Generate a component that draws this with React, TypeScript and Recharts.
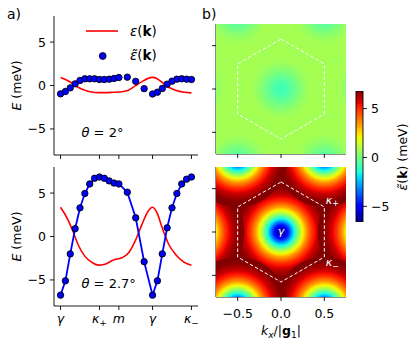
import React from 'react';
import { ComposedChart, Line, XAxis, YAxis, Scatter, BarChart, Bar, ReferenceArea } from 'recharts';
import * as RCNS from 'recharts';

const W = 415;
const H = 346;
const FONT = "'DejaVu Sans', 'Liberation Sans', sans-serif";

// ---------------- data: panel a (band along gamma-kappa+-m-gamma-kappa-) ----------------
const pathTickK = [0, 0.5774, 0.866, 1.366, 1.9434];
const pathTickLabels = ['γ', 'κ+', 'm', 'γ', 'κ−'];
const pathDomain = [-0.0972, 2.0406];
const energyDomain = [-8, 8];
const energyTicks = [-5, 0, 5];

const dotK = [0, 0.0722, 0.1443, 0.2165, 0.2887, 0.3608, 0.433, 0.5052, 0.5774, 0.6495, 0.7217, 0.7939, 0.866,
  0.991, 1.116, 1.241, 1.366, 1.4382, 1.5104, 1.5825, 1.6547, 1.7269, 1.799, 1.8712, 1.9434];
const epsTildeTheta2 = [-0.96, -0.69, -0.27, 0.19, 0.58, 0.77, 0.77, 0.77, 0.69, 0.69, 0.73, 0.81, 0.92,
  0.96, 0.48, -0.36, -0.98, -0.77, -0.35, 0.15, 0.5, 0.73, 0.77, 0.73, 0.69];
const epsTildeTheta27 = [-6.75, -5.1, -2.0, 0.9, 3.3, 4.95, 6.05, 6.7, 6.85, 6.7, 6.4, 6.15, 6.05,
  5.1, 2.15, -2.9, -6.75, -5.1, -2.0, 1.0, 3.3, 4.95, 6.05, 6.6, 6.85];

const curveK = [0, 0.109, 0.184, 0.259, 0.36, 0.46, 0.559, 0.659, 0.784, 0.909, 1.008, 1.109, 1.209, 1.299,
  1.366, 1.434, 1.509, 1.607, 1.708, 1.832, 1.9434];
const epsTheta2 = [0.93, 0.55, 0.2, -0.2, -0.55, -0.75, -0.82, -0.82, -0.78, -0.72, -0.55, -0.05, 0.45, 0.82,
  0.93, 0.78, 0.35, -0.2, -0.55, -0.78, -0.85];
const epsTheta27 = [3.37, 1.95, 0.6, -0.92, -2.26, -2.95, -3.3, -3.2, -2.7, -2.45, -1.9, -0.5, 1.4, 2.9,
  3.37, 2.7, 1.0, -0.92, -2.07, -2.95, -3.3];

// ---------------- data: panel b (maps of eps~(k)) ----------------
const heatDomain = [-0.75, 0.75];
const kTicks = [-0.5, 0, 0.5];
const gammaKx = [0, 1, -1, 0.5, -0.5, 0.5, -0.5];
const gammaKy = [0, 0, 0, 0.866, 0.866, -0.866, -0.866];
const bzKx = [0, 0.5, 0.5, 0, -0.5, -0.5, 0];
const bzKy = [0.577, 0.289, -0.289, -0.577, -0.289, 0.289, 0.577];
const bzLabelKx = [0, 0.5, 0.5];
const bzLabelKy = [0, 0.289, -0.289];
const bzLabels = ['γ', 'κ+', 'κ−'];
// radial profile of eps~ around each gamma point (read along gamma -> kappa)
const heatRadius = dotK.slice(0, 9);
const heatTheta2 = epsTildeTheta2.slice(0, 9);
const heatTheta27 = epsTildeTheta27.slice(0, 9);
const colorMin = -6.6;
const colorMax = 6.8;
const colorbarTicks = [-5, 0, 5];

// ---------------- colormap (jet) ----------------
const JET_R = [[0, 0], [0.35, 0], [0.66, 1], [0.89, 1], [1, 0.5]];
const JET_G = [[0, 0], [0.125, 0], [0.375, 1], [0.64, 1], [0.91, 0], [1, 0]];
const JET_B = [[0, 0.5], [0.11, 1], [0.34, 1], [0.65, 0], [1, 0]];
const JET_BREAKS = [0, 0.11, 0.125, 0.34, 0.35, 0.375, 0.64, 0.65, 0.66, 0.89, 0.91, 1];
function seg(pts: number[][], x: number) {
  for (let i = 0; i < pts.length - 1; i++) {
    const [x0, y0] = pts[i];
    const [x1, y1] = pts[i + 1];
    if (x <= x1) return y0 + ((x - x0) / (x1 - x0 || 1)) * (y1 - y0);
  }
  return pts[pts.length - 1][1];
}
function jet(t: number) {
  const u = Math.max(0, Math.min(1, t));
  const c = (p: number[][]) => Math.round(seg(p, u) * 255);
  return `rgb(${c(JET_R)},${c(JET_G)},${c(JET_B)})`;
}
const norm = (v: number) => (v - colorMin) / (colorMax - colorMin);
function radialStops(radii: number[], values: number[]) {
  const rMax = radii[radii.length - 1];
  const stops: { offset: number; color: string }[] = [];
  const SUB = 6;
  for (let i = 0; i < radii.length - 1; i++) {
    for (let s = 0; s < SUB; s++) {
      const t = s / SUB;
      const r = radii[i] + t * (radii[i + 1] - radii[i]);
      const v = values[i] + t * (values[i + 1] - values[i]);
      stops.push({ offset: r / rMax, color: jet(norm(v)) });
    }
  }
  stops.push({ offset: 1, color: jet(norm(values[values.length - 1])) });
  return stops;
}

// ---------------- layout ----------------
type Rect = { left: number; top: number; right: number; bottom: number };
const PA_TOP: Rect = { left: 54, top: 16, right: 198, bottom: 155 };
const PA_BOT: Rect = { left: 54, top: 167, right: 198, bottom: 306 };
const HM_TOP: Rect = { left: 216, top: 24, right: 346, bottom: 154 };
const HM_BOT: Rect = { left: 216, top: 167, right: 346, bottom: 297 };
const CB: Rect = { left: 356, top: 91, right: 363, bottom: 222 };

function marginsFor(r: Rect, yW: number, xH: number, yRightW = 0) {
  return { top: r.top, left: r.left - yW, right: W - r.right - yRightW, bottom: H - r.bottom - xH };
}

const axisStyle = { stroke: '#000', strokeWidth: 0.9 };
const tickStyle = { stroke: '#000', strokeWidth: 0.9 };
const tickFont = { fontSize: 12.5, fill: '#000', fontFamily: FONT };
const fmtMinus = (v: number) => (v < 0 ? '−' + Math.abs(v) : String(v));
const fmtK = (v: number) => (v < 0 ? '−' : '') + Math.abs(v).toFixed(1);

const EmptyTick = () => <g />;
const EmptyShape = () => <g />;

function PathTick(props: any) {
  const { x, y, payload } = props;
  const idx = pathTickK.findIndex((k) => Math.abs(k - payload.value) < 1e-6);
  const label = idx >= 0 ? pathTickLabels[idx] : '';
  const main = label.charAt(0);
  const sub = label.slice(1);
  return (
    <text x={x} y={y + 9} textAnchor="middle" fontSize={12.5} fontFamily={FONT} fill="#000">
      <tspan fontStyle="italic">{main}</tspan>
      {sub ? <tspan fontSize={9} dy={3}>{sub}</tspan> : null}
    </text>
  );
}

const usePlotAreaSafe: () => any = (RCNS as any).usePlotArea || (() => undefined);
function HeatDisk(props: any) {
  const area = usePlotAreaSafe();
  const span = heatDomain[1] - heatDomain[0];
  const widthPx = area && area.width ? area.width : HM_TOP.right - HM_TOP.left;
  const rPx = (heatRadius[heatRadius.length - 1] * widthPx) / span;
  return <circle cx={props.cx} cy={props.cy} r={rPx} fill={`url(#${props.gradId})`} />;
}

const LABEL_OFFSETS = [[0, 2.5], [1.5, -3], [1.5, 9]];
function BzLabel(props: any) {
  const { cx, cy, payload, index } = props;
  const t: string = payload.t;
  const off = LABEL_OFFSETS[index] || [0, 0];
  const main = t.charAt(0);
  const sub = t.slice(1);
  return (
    <text x={cx + off[0]} y={cy + off[1]} textAnchor={sub ? 'start' : 'middle'} fontSize={11} fontFamily={FONT} fill="#fff">
      <tspan fontStyle="italic">{main}</tspan>
      {sub ? <tspan fontSize={8} dy={2.5}>{sub}</tspan> : null}
    </text>
  );
}

function BandPanel({ rect, dots, curve, dotLine, tickLabels }: any) {
  const yW = 44;
  const xH = 22;
  const dotData = dotK.map((k, i) => ({ k, e: dots[i] }));
  const curveData = curveK.map((k, i) => ({ k, e: curve[i] }));
  return (
    <div style={{ position: 'absolute', left: 0, top: 0 }}>
      <ComposedChart width={W} height={H} margin={marginsFor(rect, yW, xH)}>
        <XAxis type="number" dataKey="k" domain={pathDomain} allowDataOverflow ticks={pathTickK} interval={0}
          height={xH} tickSize={4} tickMargin={4} tick={tickLabels ? PathTick : EmptyTick}
          axisLine={axisStyle} tickLine={tickStyle} />
        <YAxis type="number" dataKey="e" domain={energyDomain} allowDataOverflow ticks={energyTicks} interval={0}
          width={yW} tickSize={4} tickMargin={4} tick={tickFont} tickFormatter={fmtMinus}
          axisLine={axisStyle} tickLine={tickStyle} />
        <XAxis xAxisId="top" orientation="top" type="number" domain={pathDomain} allowDataOverflow height={0}
          tick={false} tickLine={false} axisLine={axisStyle} />
        <YAxis yAxisId="right" orientation="right" type="number" domain={energyDomain} allowDataOverflow width={0}
          tick={false} tickLine={false} axisLine={axisStyle} />
        <Line data={curveData} dataKey="e" type="monotone" stroke="#ff0000" strokeWidth={1.6} dot={false}
          activeDot={false} isAnimationActive={false} />
        <Line data={dotData} dataKey="e" type="linear" stroke={dotLine ? '#0000ff' : 'none'} strokeWidth={1.8}
          dot={{ r: 3.2, fill: '#0000ff', stroke: '#000', strokeWidth: 0.9 }} activeDot={false}
          isAnimationActive={false} />
      </ComposedChart>
    </div>
  );
}

function HeatPanel({ rect, gradId, profile, xLabels, showLabels }: any) {
  const yW = 8;
  const xH = 24;
  const centers = gammaKx.map((kx, i) => ({ kx, ky: gammaKy[i] }));
  const hex = bzKx.map((kx, i) => ({ kx, ky: bzKy[i] }));
  const labels = bzLabelKx.map((kx, i) => ({ kx, ky: bzLabelKy[i], t: bzLabels[i] }));
  const bg = jet(norm(profile[profile.length - 1]));
  return (
    <div style={{ position: 'absolute', left: 0, top: 0 }}>
      <ComposedChart width={W} height={H} margin={marginsFor(rect, yW, xH)}>
        <XAxis type="number" dataKey="kx" domain={heatDomain} allowDataOverflow ticks={kTicks} interval={0}
          height={xH} tickSize={4} tickMargin={8} tick={xLabels ? tickFont : EmptyTick} tickFormatter={fmtK}
          axisLine={axisStyle} tickLine={tickStyle} />
        <YAxis type="number" dataKey="ky" domain={heatDomain} allowDataOverflow ticks={kTicks} interval={0}
          width={yW} tickSize={4} tick={EmptyTick} axisLine={axisStyle} tickLine={tickStyle} />
        <XAxis xAxisId="top" orientation="top" type="number" domain={heatDomain} allowDataOverflow height={0}
          tick={false} tickLine={false} axisLine={axisStyle} />
        <YAxis yAxisId="right" orientation="right" type="number" domain={heatDomain} allowDataOverflow width={0}
          tick={false} tickLine={false} axisLine={axisStyle} />
        <ReferenceArea x1={heatDomain[0]} x2={heatDomain[1]} y1={heatDomain[0]} y2={heatDomain[1]}
          fill={bg} fillOpacity={1} stroke="none" />
        <Scatter data={centers} shape={(p: any) => <HeatDisk {...p} gradId={gradId} />} isAnimationActive={false} />
        <Scatter data={hex} shape={EmptyShape} line={{ stroke: '#ffffff', strokeWidth: 1, strokeDasharray: '3.5 2.2' }}
          lineType="joint" isAnimationActive={false} />
        {showLabels ? (
          <Scatter data={labels} shape={(p: any) => <BzLabel {...p} />} isAnimationActive={false} />
        ) : null}
      </ComposedChart>
    </div>
  );
}

function ColorBar() {
  const data = [{ name: 'cbar', range: [colorMin, colorMax] }];
  const yW = 30;
  return (
    <div style={{ position: 'absolute', left: 0, top: 0 }}>
      <BarChart width={W} height={H} data={data} margin={marginsFor(CB, 0, 0, yW)} barCategoryGap={0} barGap={0}>
        <XAxis dataKey="name" type="category" hide />
        <YAxis orientation="right" type="number" domain={[colorMin, colorMax]} allowDataOverflow ticks={colorbarTicks}
          interval={0} width={yW} tickSize={4} tickMargin={4} tick={tickFont} tickFormatter={fmtMinus}
          axisLine={false} tickLine={tickStyle} />
        <Bar dataKey="range" fill="url(#jetV)" stroke="#000" strokeWidth={0.9} isAnimationActive={false} />
      </BarChart>
    </div>
  );
}

export default function App() {
  const stops2 = radialStops(heatRadius, heatTheta2);
  const stops27 = radialStops(heatRadius, heatTheta27);
  return (
    <div style={{ position: 'absolute', left: 0, top: 0, width: W, height: H, background: '#fff', fontFamily: FONT }}>
      <svg width={0} height={0} style={{ position: 'absolute' }}>
        <defs>
          <linearGradient id="jetV" x1="0" y1="1" x2="0" y2="0">
            {JET_BREAKS.map((t, i) => <stop key={i} offset={t} stopColor={jet(t)} />)}
          </linearGradient>
          <radialGradient id="heatT2" cx="50%" cy="50%" r="50%">
            {stops2.map((s, i) => <stop key={i} offset={s.offset} stopColor={s.color} />)}
          </radialGradient>
          <radialGradient id="heatT27" cx="50%" cy="50%" r="50%">
            {stops27.map((s, i) => <stop key={i} offset={s.offset} stopColor={s.color} />)}
          </radialGradient>
        </defs>
      </svg>

      <BandPanel rect={PA_TOP} dots={epsTildeTheta2} curve={epsTheta2} dotLine={false} tickLabels={false} />
      <BandPanel rect={PA_BOT} dots={epsTildeTheta27} curve={epsTheta27} dotLine={true} tickLabels={true} />
      <HeatPanel rect={HM_TOP} gradId="heatT2" profile={heatTheta2} xLabels={false} showLabels={false} />
      <HeatPanel rect={HM_BOT} gradId="heatT27" profile={heatTheta27} xLabels={true} showLabels={true} />
      <ColorBar />

      <svg width={W} height={H} style={{ position: 'absolute', left: 0, top: 0, pointerEvents: 'none' }}
        fontFamily={FONT} fill="#000">
        <text x={7} y={19} fontSize={14}>a)</text>
        <text x={202} y={19} fontSize={14}>b)</text>

        <text transform="translate(16,85.5) rotate(-90)" textAnchor="middle" dominantBaseline="central" fontSize={12.5}>
          <tspan fontStyle="italic">E</tspan> (meV)
        </text>
        <text transform="translate(16,236.5) rotate(-90)" textAnchor="middle" dominantBaseline="central" fontSize={12.5}>
          <tspan fontStyle="italic">E</tspan> (meV)
        </text>

        <line x1={86} y1={31} x2={118} y2={31} stroke="#ff0000" strokeWidth={1.6} />
        <text x={130} y={35.5} fontSize={13.5}>
          <tspan fontStyle="italic">ε</tspan>(<tspan fontWeight="bold">k</tspan>)
        </text>
        <circle cx={102.7} cy={56} r={3.4} fill="#0000ff" stroke="#000" strokeWidth={0.9} />
        <text x={130} y={60} fontSize={13.5}>
          <tspan fontStyle="italic">ε̃</tspan>(<tspan fontWeight="bold">k</tspan>)
        </text>

        <text x={81.5} y={136.5} fontSize={13}>
          <tspan fontStyle="italic">θ</tspan> = 2°
        </text>
        <text x={81.5} y={288} fontSize={13}>
          <tspan fontStyle="italic">θ</tspan> = 2.7°
        </text>

        <text transform="translate(402,157) rotate(-90)" textAnchor="middle" dominantBaseline="central" fontSize={12.5}>
          <tspan fontStyle="italic">ε̃</tspan>(<tspan fontWeight="bold">k</tspan>) (meV)
        </text>

        <text x={281} y={335} textAnchor="middle" fontSize={12.5}>
          <tspan fontStyle="italic">k</tspan>
          <tspan fontStyle="italic" fontSize={9} dy={2.5}>x</tspan>
          <tspan dy={-2.5}>/|</tspan>
          <tspan fontWeight="bold">g</tspan>
          <tspan fontSize={9} dy={2.5}>1</tspan>
          <tspan dy={-2.5}>|</tspan>
        </text>
      </svg>
    </div>
  );
}
